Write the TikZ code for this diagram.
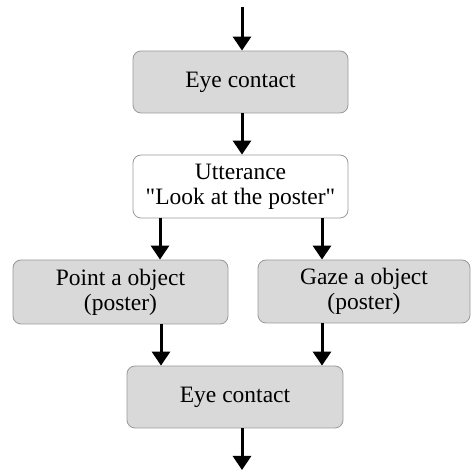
\documentclass[tikz,border=0pt]{standalone}
\usepackage{fontspec}
\setmainfont{Liberation Serif}[Ligatures=TeXOff]
\usetikzlibrary{arrows.meta}
\tikzset{
  box/.style={draw=black!40, line width=0.8pt, rounded corners=8pt, fill=black!15,
    align=center, font=\fontsize{23.5}{25}\selectfont, inner sep=0pt},
  ubox/.style={box, fill=white},
  arr/.style={line width=3pt, -{Triangle[width=18pt,length=14pt]}},
}
\begin{document}
\begin{tikzpicture}[x=1pt,y=1pt]
\useasboundingbox (0,0) rectangle (471,470);
\node[box, minimum width=215pt, minimum height=62pt] (eye1) at (240.5,388) {Eye contact};
\node[ubox, minimum width=215pt, minimum height=63pt] (utt) at (240.5,283.5) {Utterance\\"Look at the poster"};
\node[box, minimum width=215pt, minimum height=64pt] (point) at (120.5,178) {Point a object\\(poster)};
\node[box, minimum width=212pt, minimum height=63pt] (gaze) at (364,178.5) {Gaze a object\\(poster)};
\node[box, minimum width=216pt, minimum height=62pt] (eye2) at (235,73) {Eye contact};
\coordinate (top) at (242,463);
\coordinate (bot) at (242,0);
\draw[arr] (top) -- (top |- eye1.north);
\draw[arr] (eye1.south -| top) -- (utt.north -| top);
\draw[arr] ([xshift=-80.5pt]utt.south) -- ([xshift=-80.5pt]utt.south |- point.north);
\draw[arr] ([xshift=81.5pt]utt.south) -- ([xshift=81.5pt]utt.south |- gaze.north);
\draw[arr] ([xshift=40.5pt]point.south) -- ([xshift=40.5pt]point.south |- eye2.north);
\draw[arr] ([xshift=-42pt]gaze.south) -- ([xshift=-42pt]gaze.south |- eye2.north);
\draw[arr] (eye2.south -| top) -- (bot);
\end{tikzpicture}
\end{document}
